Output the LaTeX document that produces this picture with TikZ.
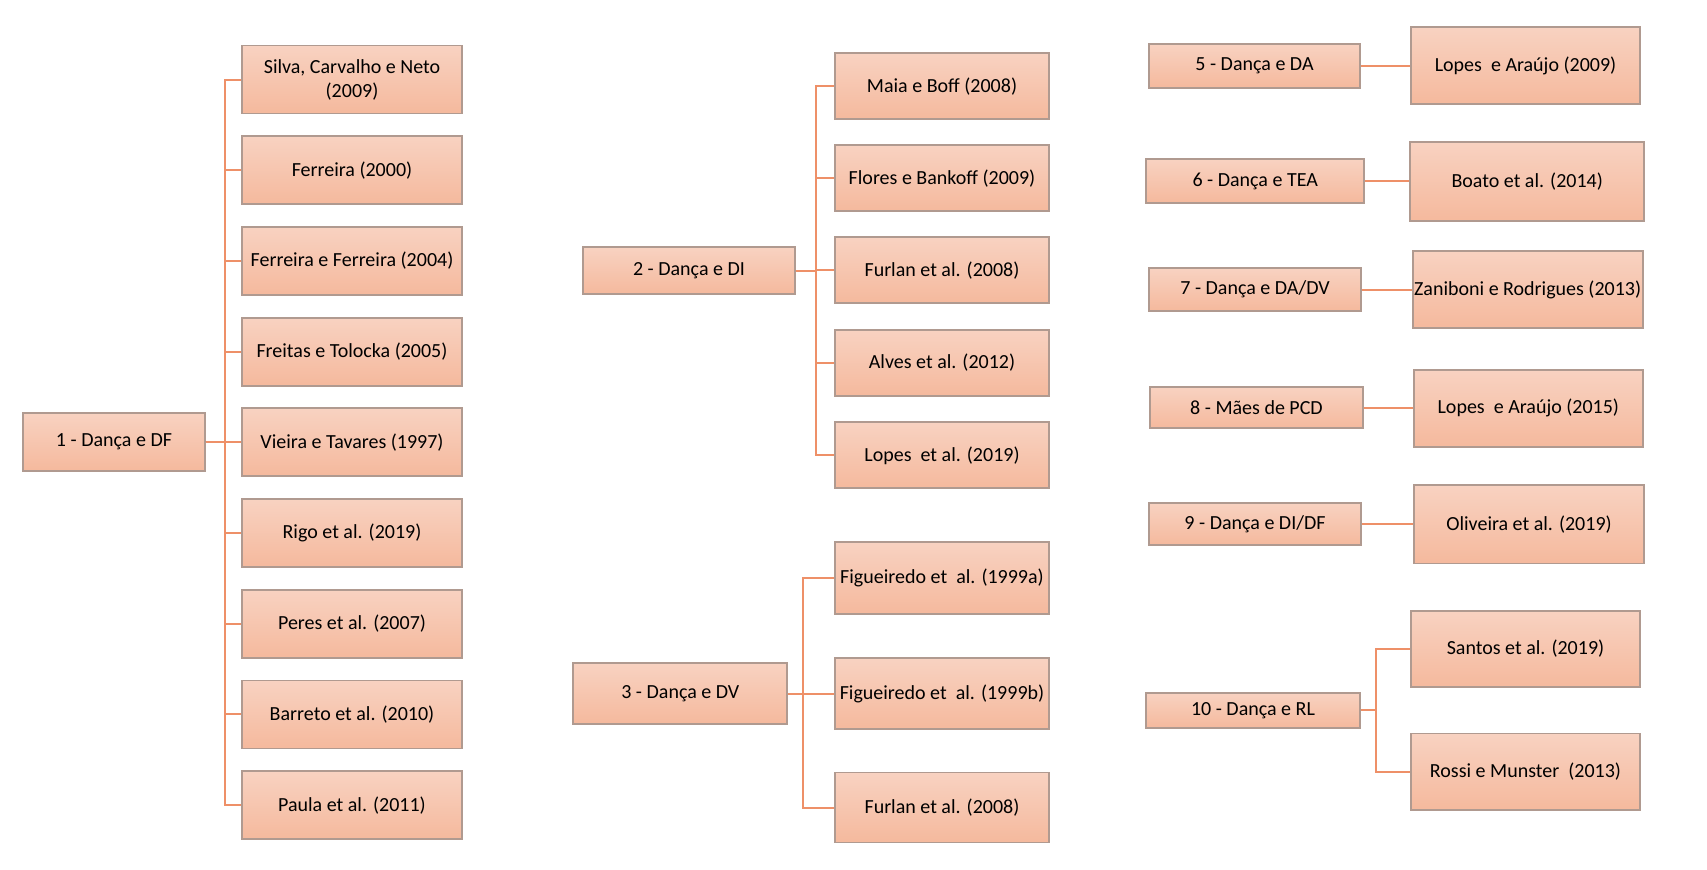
\documentclass[tikz,border=0pt]{standalone}
\usepackage{fontspec}
\setmainfont{Carlito}
\usepackage{tikz}
\definecolor{boxtop}{HTML}{F8D2C1}
\definecolor{boxbot}{HTML}{F5B99D}
\definecolor{boxline}{HTML}{B09A90}
\definecolor{linkcol}{HTML}{EE9068}

\begin{document}
\begin{tikzpicture}[x=0.5pt, y=-0.5pt,
  box/.style={draw=boxline, line width=0.9pt, top color=boxtop, bottom color=boxbot,
    inner sep=0pt, align=center, font=\fontsize{10}{12}\selectfont},
  link/.style={draw=linkcol, line width=1pt}]
  \useasboundingbox (0,0) rectangle (1707,869);

  % Group 1
  \node[box, minimum width=91pt, minimum height=29pt] (g1) at (114,442) {1 - Dança e DF};
  \node[box, minimum width=110pt, minimum height=34pt] (a1) at (352,79.5) {Silva, Carvalho e Neto\\(2009)};
  \node[box, minimum width=110pt, minimum height=34pt] (a2) at (352,170.2) {Ferreira (2000)};
  \node[box, minimum width=110pt, minimum height=34pt] (a3) at (352,260.9) {Ferreira e Ferreira (2004)};
  \node[box, minimum width=110pt, minimum height=34pt] (a4) at (352,351.6) {Freitas e Tolocka (2005)};
  \node[box, minimum width=110pt, minimum height=34pt] (a5) at (352,442.3) {Vieira e Tavares (1997)};
  \node[box, minimum width=110pt, minimum height=34pt] (a6) at (352,533) {Rigo et al. (2019)};
  \node[box, minimum width=110pt, minimum height=34pt] (a7) at (352,623.7) {Peres et al. (2007)};
  \node[box, minimum width=110pt, minimum height=34pt] (a8) at (352,714.4) {Barreto et al. (2010)};
  \node[box, minimum width=110pt, minimum height=34pt] (a9) at (352,805.1) {Paula et al. (2011)};

  \draw[link] (g1.east) -- ++(19,0) |- (a1.west);
  \draw[link] (g1.east) -- ++(19,0) |- (a2.west);
  \draw[link] (g1.east) -- ++(19,0) |- (a3.west);
  \draw[link] (g1.east) -- ++(19,0) |- (a4.west);
  \draw[link] (g1.east) -- ++(19,0) |- (a5.west);
  \draw[link] (g1.east) -- ++(19,0) |- (a6.west);
  \draw[link] (g1.east) -- ++(19,0) |- (a7.west);
  \draw[link] (g1.east) -- ++(19,0) |- (a8.west);
  \draw[link] (g1.east) -- ++(19,0) |- (a9.west);

  % Group 2
  \node[box, minimum width=106pt, minimum height=23.5pt] (g2) at (689,270.7) {2 - Dança e DI};
  \node[box, minimum width=107pt, minimum height=33pt] (b1) at (942,86.3) {Maia e Boff (2008)};
  \node[box, minimum width=107pt, minimum height=33pt] (b2) at (942,178.3) {Flores e Bankoff (2009)};
  \node[box, minimum width=107pt, minimum height=33pt] (b3) at (942,270.3) {Furlan et al. (2008)};
  \node[box, minimum width=107pt, minimum height=33pt] (b4) at (942,363) {Alves et al. (2012)};
  \node[box, minimum width=107pt, minimum height=33pt] (b5) at (942,455.3) {Lopes~ et al. (2019)};

  \draw[link] (g2.east) -- ++(20,0) |- (b1.west);
  \draw[link] (g2.east) -- ++(20,0) |- (b2.west);
  \draw[link] (g2.east) -- ++(20,0) |- (b3.west);
  \draw[link] (g2.east) -- ++(20,0) |- (b4.west);
  \draw[link] (g2.east) -- ++(20,0) |- (b5.west);

  % Group 3
  \node[box, minimum width=107pt, minimum height=30.5pt] (g3) at (680.3,693.8) {3 - Dança e DV};
  \node[box, minimum width=107pt, minimum height=36pt] (c1) at (942,578) {Figueiredo et~ al. (1999a)};
  \node[box, minimum width=107pt, minimum height=35.5pt] (c2) at (942,693.7) {Figueiredo et~ al. (1999b)};
  \node[box, minimum width=107pt, minimum height=35pt] (c3) at (942,807.5) {Furlan et al. (2008)};

  \draw[link] (g3.east) -- ++(15,0) |- (c1.west);
  \draw[link] (g3.east) -- ++(15,0) |- (c2.west);
  \draw[link] (g3.east) -- ++(15,0) |- (c3.west);

  % Groups 5 to 9
  \node[box, minimum width=105.5pt, minimum height=21.8pt] (g5) at (1254.5,65.8) {5 - Dança e DA};
  \node[box, minimum width=114.5pt, minimum height=38.5pt] (d5) at (1525.5,65.7) {Lopes~ e Araújo (2009)};
  \node[box, minimum width=109pt, minimum height=21.7pt] (g6) at (1255.2,181) {6 - Dança e TEA};
  \node[box, minimum width=117pt, minimum height=39.5pt] (d6) at (1527.2,181.2) {Boato et al. (2014)};
  \node[box, minimum width=106pt, minimum height=21.2pt] (g7) at (1255,289.5) {7 - Dança e DA/DV};
  \node[box, minimum width=115pt, minimum height=38.8pt] (d7) at (1527.7,289.5) {Zaniboni e Rodrigues (2013)};
  \node[box, minimum width=106.2pt, minimum height=20.8pt] (g8) at (1256.5,407.5) {8 - Mães de PCD};
  \node[box, minimum width=114.3pt, minimum height=38.3pt] (d8) at (1528.3,408.3) {Lopes~ e Araújo (2015)};
  \node[box, minimum width=106pt, minimum height=21.3pt] (g9) at (1255,524) {9 - Dança e DI/DF};
  \node[box, minimum width=115pt, minimum height=39.2pt] (d9) at (1529,524.2) {Oliveira et al. (2019)};

  \draw[link] (g5.east) -- (d5.west |- g5.east);
  \draw[link] (g6.east) -- (d6.west |- g6.east);
  \draw[link] (g7.east) -- (d7.west |- g7.east);
  \draw[link] (g8.east) -- (d8.west |- g8.east);
  \draw[link] (g9.east) -- (d9.west |- g9.east);

  % Group 10
  \node[box, minimum width=107pt, minimum height=17.5pt] (g10) at (1253,710.2) {10 - Dança e RL};
  \node[box, minimum width=114.5pt, minimum height=38.3pt] (e1) at (1525.5,649) {Santos et al. (2019)};
  \node[box, minimum width=114.5pt, minimum height=38.3pt] (e2) at (1525.5,771.7) {Rossi e Munster~ (2013)};

  \draw[link] (g10.east) -- ++(15,0) |- (e1.west);
  \draw[link] (g10.east) -- ++(15,0) |- (e2.west);
\end{tikzpicture}
\end{document}
